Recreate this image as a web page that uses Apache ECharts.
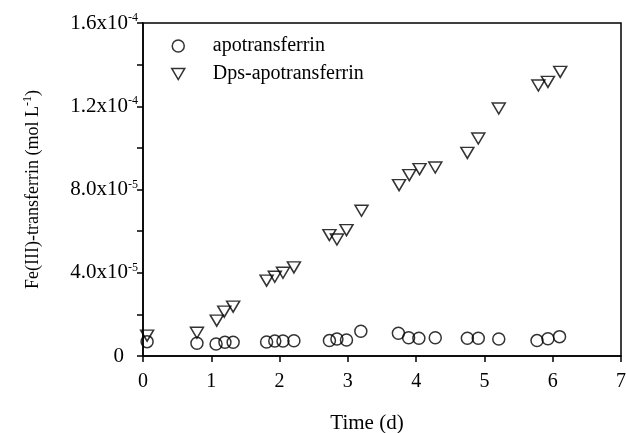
<!DOCTYPE html>
<html>
<head>
<meta charset="utf-8">
<script src="https://cdn.jsdelivr.net/npm/echarts@6/dist/echarts.min.js"></script>
<style>
html,body{margin:0;padding:0;background:#fff;}
#c{width:626px;height:433px;}
</style>
</head>
<body>
<div id="c"></div>
<script>
// Data (time in days, concentration in mol L^-1)
var apoTime = [0.06, 0.79, 1.07, 1.20, 1.32, 1.81, 1.93, 2.05, 2.21, 2.73, 2.84, 2.98, 3.19, 3.74, 3.89, 4.04, 4.28, 4.75, 4.91, 5.21, 5.77, 5.93, 6.10];
var apoValue = [0.69e-5, 0.61e-5, 0.58e-5, 0.66e-5, 0.66e-5, 0.67e-5, 0.72e-5, 0.72e-5, 0.73e-5, 0.74e-5, 0.82e-5, 0.77e-5, 1.19e-5, 1.09e-5, 0.88e-5, 0.85e-5, 0.88e-5, 0.85e-5, 0.85e-5, 0.82e-5, 0.74e-5, 0.83e-5, 0.93e-5];
var dpsTime = [0.06, 0.79, 1.08, 1.19, 1.32, 1.81, 1.93, 2.05, 2.21, 2.73, 2.84, 2.98, 3.20, 3.75, 3.90, 4.05, 4.28, 4.75, 4.91, 5.21, 5.79, 5.93, 6.11];
var dpsValue = [0.98e-5, 1.12e-5, 1.70e-5, 2.13e-5, 2.37e-5, 3.62e-5, 3.81e-5, 4.00e-5, 4.26e-5, 5.81e-5, 5.60e-5, 6.05e-5, 6.98e-5, 8.21e-5, 8.69e-5, 8.98e-5, 9.06e-5, 9.76e-5, 10.45e-5, 11.89e-5, 13.00e-5, 13.17e-5, 13.65e-5];
var seriesNames = ['apotransferrin', 'Dps-apotransferrin'];
var xTickLabels = ['0', '1', '2', '3', '4', '5', '6', '7'];
var yTickBase = ['0', '4.0x10', '8.0x10', '1.2x10', '1.6x10'];
var yTickExp = ['', '-5', '-5', '-4', '-4'];

var FONT = "'Liberation Serif', 'Times New Roman', serif";
function pairs(xs, ys) { return xs.map(function (x, i) { return [x, ys[i]]; }); }

var chart = echarts.init(document.getElementById('c'), null, {renderer: 'canvas'});
chart.setOption({
  animation: false,
  backgroundColor: '#fff',
  grid: {left: 143, right: 5, top: 23, bottom: 77, show: true, borderColor: '#000', borderWidth: 1.5,
    backgroundColor: 'transparent', containLabel: false, outerBoundsMode: 'none'},
  legend: {
    orient: 'vertical', left: 166, top: 31, itemGap: 8, itemWidth: 13, itemHeight: 12,
    textStyle: {fontFamily: FONT, fontSize: 20, color: '#000', lineHeight: 20, padding: [0, 0, 0, 23]},
    data: [
      {name: seriesNames[0], icon: 'circle', itemStyle: {color: 'transparent', borderColor: '#000', borderWidth: 1.5}},
      {name: seriesNames[1], icon: 'path://M0,0 L20,0 L10,17 Z', itemStyle: {color: 'transparent', borderColor: '#000', borderWidth: 1.5}}
    ]
  },
  xAxis: {
    type: 'value', min: 0, max: 7, interval: 1,
    name: 'Time (d)', nameLocation: 'middle', nameGap: 57,
    nameTextStyle: {fontFamily: FONT, fontSize: 21, color: '#000', padding: [0, 30, 0, 0]},
    axisLine: {show: true, onZero: false, lineStyle: {color: '#000', width: 1.5}},
    axisTick: {show: true, inside: false, length: 6, lineStyle: {color: '#000', width: 1.5}},
    axisLabel: {fontFamily: FONT, fontSize: 20, color: '#000', margin: 16,
      formatter: function (v) { return xTickLabels[Math.round(v)]; }},
    splitLine: {show: false}
  },
  yAxis: {
    type: 'value', min: 0, max: 1.6e-4, interval: 4e-5,
    name: '{a|Fe(III)-transferrin (mol L}{s|-1}{a|)}', nameLocation: 'middle', nameGap: 99, nameRotate: 90,
    nameTextStyle: {
      rich: {
        a: {fontFamily: FONT, fontSize: 18, color: '#000', lineHeight: 22, verticalAlign: 'middle'},
        s: {fontFamily: FONT, fontSize: 12, color: '#000', lineHeight: 12, verticalAlign: 'top'}
      }
    },
    axisLine: {show: true, lineStyle: {color: '#000', width: 1.5}},
    axisTick: {show: true, inside: false, length: 6, lineStyle: {color: '#000', width: 1.5}},
    minorTick: {show: true, splitNumber: 2, length: 6, lineStyle: {color: '#000', width: 1.5}},
    axisLabel: {
      margin: 5,
      formatter: function (v) {
        var i = Math.round(v / 4e-5);
        if (!yTickExp[i]) return '{z|' + yTickBase[i] + '}';
        return '{b|' + yTickBase[i] + '}{s|' + yTickExp[i] + '}';
      },
      rich: {
        b: {fontFamily: FONT, fontSize: 21, color: '#000', lineHeight: 22, verticalAlign: 'middle'},
        s: {fontFamily: FONT, fontSize: 12, color: '#000', lineHeight: 12, verticalAlign: 'top'},
        z: {fontFamily: FONT, fontSize: 21, color: '#000', lineHeight: 22, padding: [0, 14, 0, 0]}
      }
    },
    splitLine: {show: false}
  },
  series: [
    {
      name: seriesNames[0], type: 'scatter', data: pairs(apoTime, apoValue),
      symbol: 'circle', symbolSize: 12,
      itemStyle: {color: 'transparent', borderColor: '#000', borderWidth: 1.5}
    },
    {
      name: seriesNames[1], type: 'scatter', data: pairs(dpsTime, dpsValue),
      symbol: 'triangle', symbolRotate: 180, symbolSize: [13, 11],
      itemStyle: {color: 'transparent', borderColor: '#000', borderWidth: 1.5}
    }
  ]
});
</script>
</body>
</html>
